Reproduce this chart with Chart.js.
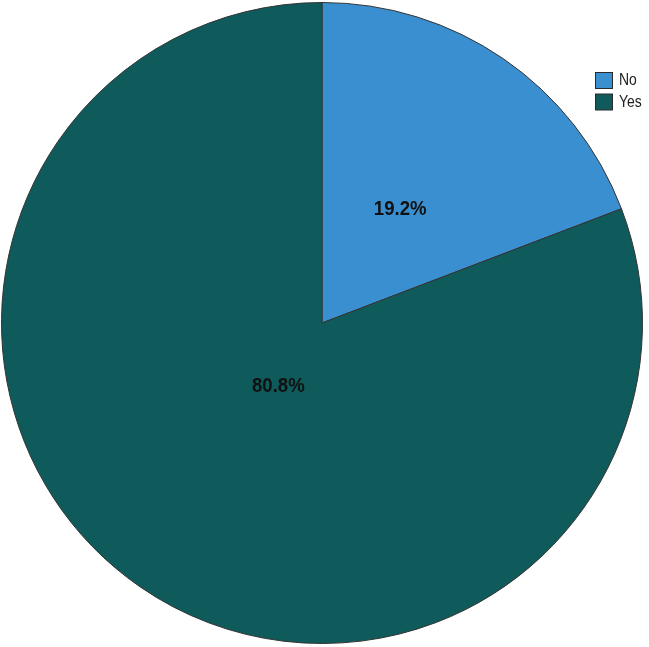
<!DOCTYPE html>
<html>
<head>
<meta charset="utf-8">
<script src="https://cdn.jsdelivr.net/npm/chart.js@4.4.0/dist/chart.umd.min.js"></script>
<style>
html,body{margin:0;padding:0;background:#fff;}
#wrap{width:649px;height:647px;position:relative;}
</style>
</head>
<body>
<div id="wrap"><canvas id="c" width="649" height="647" style="width:649px;height:647px"></canvas></div>
<script>
const categories = ["No", "Yes"];
const percentValues = [19.2, 80.8];
const sliceColors = ["#3a8fd1", "#0f5a5b"];
const labelRadiusFraction = [0.43, 0.24];

const labelPlugin = {
  id: 'sliceLabels',
  afterDatasetsDraw(chart) {
    const ctx = chart.ctx;
    const meta = chart.getDatasetMeta(0);
    ctx.save();
    ctx.font = 'bold 20px "Liberation Sans", Arial, sans-serif';
    ctx.fillStyle = '#111';
    ctx.textAlign = 'center';
    ctx.textBaseline = 'middle';
    meta.data.forEach((arc, i) => {
      const p = arc.getProps(['x','y','startAngle','endAngle','outerRadius'], true);
      const mid = (p.startAngle + p.endAngle) / 2;
      const r = p.outerRadius * labelRadiusFraction[i];
      const x = p.x + Math.cos(mid) * r, y = p.y + Math.sin(mid) * r;
      ctx.save();
      ctx.translate(x, y);
      ctx.scale(0.93, 1);
      ctx.fillText(percentValues[i].toFixed(1) + '%', 0, 0);
      ctx.restore();
    });
    ctx.restore();
  }
};

const legendPlugin = {
  id: 'cornerLegend',
  afterDraw(chart) {
    const ctx = chart.ctx;
    ctx.save();
    ctx.font = '17px "Liberation Sans", Arial, sans-serif';
    ctx.textBaseline = 'middle';
    categories.forEach((c, i) => {
      const y = 72 + i * 21.5;
      ctx.fillStyle = sliceColors[i];
      ctx.fillRect(595.5, y + 0.5, 17, 16);
      ctx.strokeStyle = '#2a2a2a';
      ctx.lineWidth = 1;
      ctx.strokeRect(595.5, y + 0.5, 17, 16);
      ctx.fillStyle = '#222';
      ctx.save();
      ctx.translate(619, y + 8.5);
      ctx.scale(0.82, 1);
      ctx.fillText(c, 0, 0);
      ctx.restore();
    });
    ctx.restore();
  }
};

new Chart(document.getElementById('c'), {
  type: 'pie',
  data: {
    labels: categories,
    datasets: [{
      data: percentValues,
      backgroundColor: sliceColors,
      borderColor: '#333333',
      borderWidth: 1
    }]
  },
  options: {
    responsive: false,
    animation: false,
    layout: { padding: { left: 1, top: 2, right: 6, bottom: 3 } },
    plugins: { legend: { display: false }, tooltip: { enabled: false } }
  },
  plugins: [labelPlugin, legendPlugin]
});
</script>
</body>
</html>
